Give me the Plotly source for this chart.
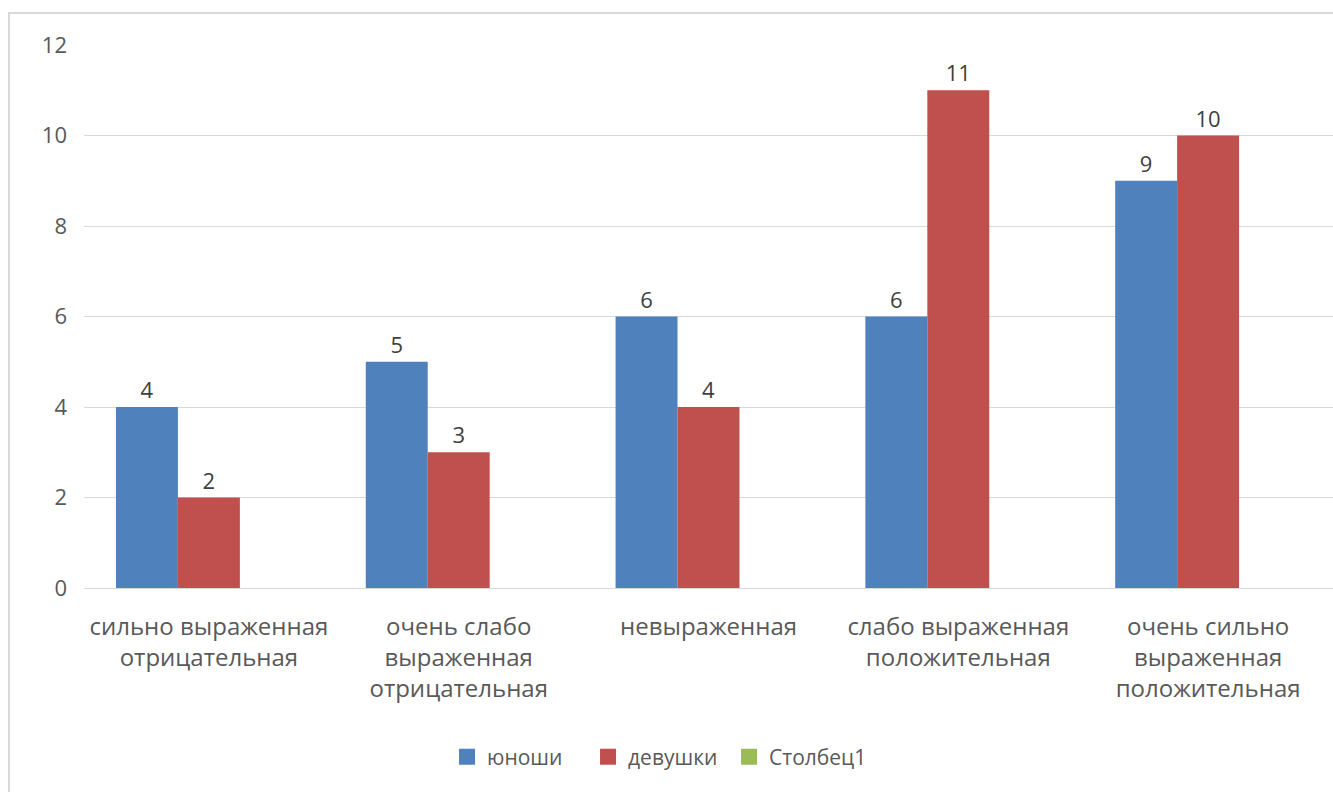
import plotly.graph_objects as go

categories = [
    "сильно выраженная<br>отрицательная",
    "очень слабо<br>выраженная<br>отрицательная",
    "невыраженная",
    "слабо выраженная<br>положительная",
    "очень сильно<br>выраженная<br>положительная",
]
series_names = ["юноши", "девушки", "Столбец1"]
boys = [4, 5, 6, 6, 9]
girls = [2, 3, 4, 11, 10]
col1 = [None, None, None, None, None]
y_ticks = [0, 2, 4, 6, 8, 10, 12]

colors = ["#4F81BD", "#C0504D", "#9BBB59"]
FONT = "Open Sans"

fig = go.Figure()
for name, vals, c in zip(series_names, [boys, girls, col1], colors):
    fig.add_trace(go.Bar(
        x=categories, y=vals, name=name, showlegend=False,
        marker=dict(color=c, line=dict(width=0)),
        text=[("" if v is None else str(v)) for v in vals],
        textposition="outside", cliponaxis=False,
        textfont=dict(family=FONT, size=22, color="#404040"),
    ))
# legend entries with square swatches (no data points)
for name, c in zip(series_names, colors):
    fig.add_trace(go.Scatter(
        x=[None], y=[None], name=name, mode="markers",
        marker=dict(symbol="square", size=20, color=c), showlegend=True,
    ))

W, H = 1333, 792
L, R, T, B = 84, 0, 45, 204
pw = W - L - R
ph = H - T - B

fig.update_layout(
    width=W, height=H,
    margin=dict(l=L, r=R, t=T, b=B, autoexpand=False),
    barmode="group", bargap=0.256, bargroupgap=0,
    plot_bgcolor="white", paper_bgcolor="white",
    font=dict(family=FONT, size=22, color="#595959"),
    showlegend=True,
    legend=dict(orientation="h", x=0.46, xanchor="center", y=-(757 - 588) / ph, yanchor="middle",
                font=dict(family=FONT, size=21, color="#595959"),
                itemwidth=30, traceorder="normal", itemsizing="trace",
                entrywidth=96, entrywidthmode="pixels"),
    xaxis=dict(showgrid=False, showline=False, ticks="", tickangle=0, ticklabelstandoff=22,
               tickfont=dict(family=FONT, size=24, color="#595959")),
    yaxis=dict(range=[0, 12], tickvals=y_ticks, showgrid=True, gridcolor="#D9D9D9",
               gridwidth=1, zeroline=True, zerolinecolor="#D9D9D9", zerolinewidth=1,
               showline=False, ticks="", ticklabelstandoff=16,
               tickfont=dict(family=FONT, size=22, color="#595959")),
    shapes=[dict(type="rect", xref="paper", yref="paper",
                 x0=(9 - L) / pw, x1=(W + 5 - L) / pw,
                 y0=-(H + 5 - T - ph) / ph - 0.05, y1=1 + (T - 13) / ph,
                 line=dict(color="#D9D9D9", width=2), fillcolor="rgba(0,0,0,0)", layer="below")],
)

fig.write_html("out.html", post_script="document.body.style.margin='0';",
               config={"displayModeBar": False})
